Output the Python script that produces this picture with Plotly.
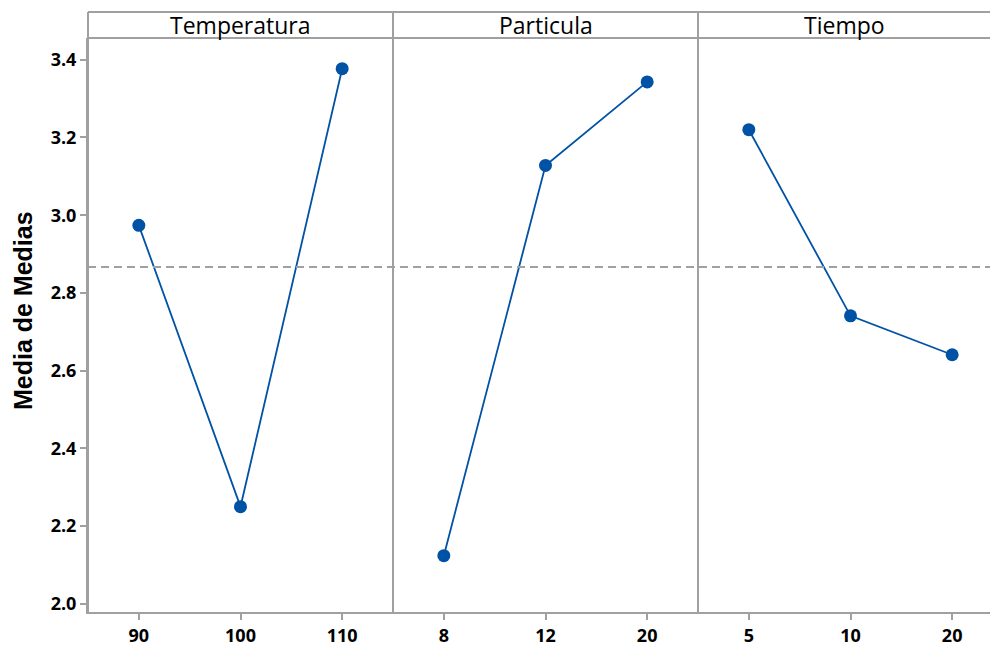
import numpy as np
import plotly.graph_objects as go

factors = ["Temperatura", "Particula", "Tiempo"]
levels = [["90", "100", "110"], ["8", "12", "20"], ["5", "10", "20"]]
means = [
    [2.974, 2.250, 3.377],
    [2.124, 3.128, 3.343],
    [3.220, 2.741, 2.641],
]
y_ticks = [2.0, 2.2, 2.4, 2.6, 2.8, 3.0, 3.2, 3.4]
y_title = "Media de Medias"

grand_mean = float(np.mean(means))

BLUE = "#0052A5"
GRAY = "#A0A0A0"
W, H = 990, 647
ML, MR, MT, MB = 88, 0, 38, 33
pw = W - ML - MR
ph = H - MT - MB
strip_top = 1 + 26 / ph

domains = [[0, 305 / pw], [305 / pw, 610 / pw], [610 / pw, 1.0]]
xranges = [[0.5, 3.5], [0.5, 3.5], [0.5, 0.5 + (pw - 610) / (305 / 3)]]

TICKFONT = dict(family="Open Sans", size=18, color="black", weight="bold")

fig = go.Figure()
for i, (f, lv, m) in enumerate(zip(factors, levels, means)):
    xa = "x" if i == 0 else f"x{i+1}"
    fig.add_trace(go.Scatter(
        x=[1, 2, 3], y=m, xaxis=xa, yaxis="y", mode="lines+markers",
        line=dict(color=BLUE, width=1.8),
        marker=dict(color=BLUE, size=13),
        showlegend=False, name=f,
    ))
    ax = dict(
        domain=domains[i], range=xranges[i], anchor="y",
        tickvals=[1, 2, 3], ticktext=lv, ticks="outside", ticklen=6,
        tickwidth=1.5, tickcolor=GRAY, showline=True, linecolor=GRAY,
        linewidth=2, showgrid=False, zeroline=False, fixedrange=True,
        tickfont=TICKFONT,
    )
    key = "xaxis" if i == 0 else f"xaxis{i+1}"
    fig.update_layout({key: ax})
    fig.add_annotation(
        x=(domains[i][0] + domains[i][1]) / 2, y=1 + 13 / ph,
        xref="paper", yref="paper", text=f, showarrow=False,
        xanchor="center", yanchor="middle",
        font=dict(family="Open Sans", size=23, color="black"),
    )

fig.update_layout(
    yaxis=dict(
        range=[1.979, 3.456], tickvals=y_ticks,
        ticktext=[f"{v:.1f}" for v in y_ticks],
        ticks="outside", ticklen=6, tickwidth=1.5, tickcolor=GRAY,
        showline=True, linecolor=GRAY, linewidth=2, showgrid=False,
        zeroline=False, fixedrange=True,
        tickfont=TICKFONT,
    ),
    width=W, height=H,
    margin=dict(l=ML, r=MR, t=MT, b=MB),
    paper_bgcolor="white", plot_bgcolor="white",
)

fig.add_annotation(
    x=-(ML - 23) / pw, y=(ph - (312 - MT)) / ph, xref="paper", yref="paper",
    text=y_title, textangle=-90, showarrow=False,
    xanchor="center", yanchor="middle",
    font=dict(family="Liberation Sans", size=25, color="black", weight="bold"),
)

shapes = []
# grand mean reference line
shapes.append(dict(type="line", xref="paper", yref="y", x0=0, x1=1,
                   y0=grand_mean, y1=grand_mean,
                   line=dict(color=GRAY, width=2, dash="8px,5px")))
# strip box
shapes.append(dict(type="line", xref="paper", yref="paper", x0=0, x1=1,
                   y0=strip_top, y1=strip_top, line=dict(color=GRAY, width=2)))
shapes.append(dict(type="line", xref="paper", yref="paper", x0=0, x1=1,
                   y0=1, y1=1, line=dict(color=GRAY, width=2)))
for xb in [0, domains[1][0], domains[2][0]]:
    shapes.append(dict(type="line", xref="paper", yref="paper", x0=xb, x1=xb,
                       y0=0, y1=strip_top, line=dict(color=GRAY, width=2)))
fig.update_layout(shapes=shapes)

fig.write_html("out.html")
